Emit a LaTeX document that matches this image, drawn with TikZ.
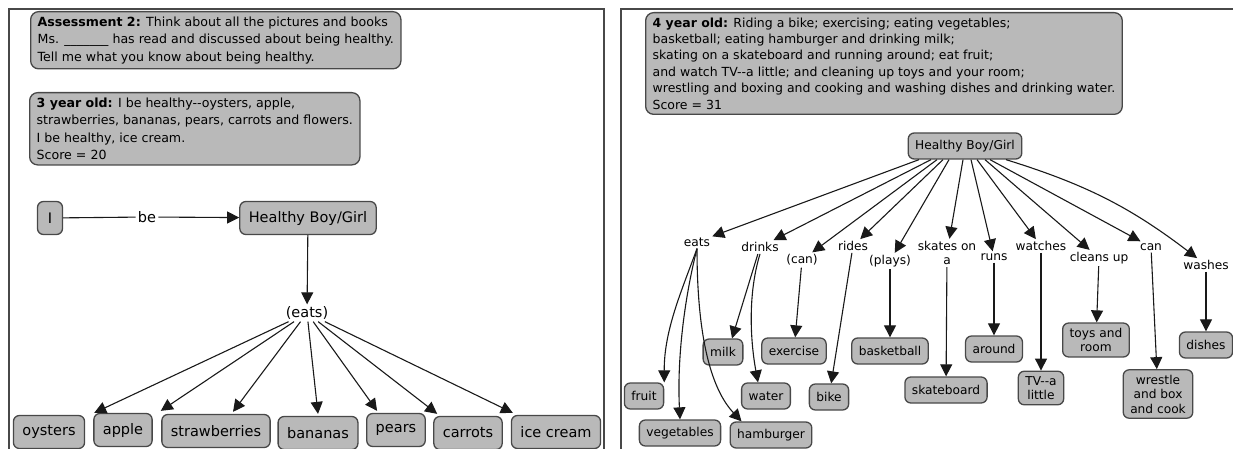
\documentclass[tikz,border=0pt]{standalone}
\usepackage{fontspec}
\setmainfont{DejaVu Sans}
\usetikzlibrary{arrows.meta,calc}
\definecolor{boxgray}{RGB}{185,185,185}
\definecolor{boxline}{RGB}{72,72,72}
\definecolor{linkline}{RGB}{25,25,25}

\begin{document}
\begin{tikzpicture}[x=1pt, y=-1pt,
    concept/.style={draw=boxline, fill=boxgray, line width=1.3pt, rounded corners=6pt,
      align=center, inner xsep=7pt, inner ysep=5pt, minimum height=26pt,
      font=\fontsize{12.2}{14.5}\selectfont},
    bigconcept/.style={concept, minimum height=33pt, inner xsep=9pt,
      font=\fontsize{14.5}{17}\selectfont},
    note/.style={draw=boxline, fill=boxgray, line width=1.3pt, rounded corners=8pt,
      align=left, anchor=north west, inner xsep=7pt, inner ysep=5pt},
    linkword/.style={inner sep=2pt, align=center, font=\fontsize{12.2}{14.5}\selectfont},
    biglink/.style={linkword, font=\fontsize{14.5}{17}\selectfont},
    arr/.style={draw=linkline, line width=1.1pt, -{Triangle[length=12pt,width=12pt]}}]
    \useasboundingbox (0,0) rectangle (1233,449);

    \draw[boxline, line width=1.6pt] (9,449) -- (9,9) -- (604,9) -- (604,449);
    \draw[boxline, line width=1.6pt] (621,449) -- (621,9) -- (1233,9);

    % left panel
    \node[note, font=\fontsize{12.6}{17.5}\selectfont] (assess) at (30,11)
      {\textbf{Assessment 2:} Think about all the pictures and books\\
       Ms. \_\_\_\_\_\_\_ has read and discussed about being healthy.\\
       Tell me what you know about being healthy.};
    \node[note, font=\fontsize{12.6}{17.5}\selectfont] (three) at (29,92)
      {\textbf{3 year old:} I be healthy-{}-oysters, apple,\\
       strawberries, bananas, pears, carrots and flowers.\\
       I be healthy, ice cream.\\
       Score = 20};

    \node[bigconcept, minimum width=25pt, inner xsep=4pt] (i) at (50,218) {I};
    \node[biglink] (be) at (147,217) {be};
    \node[bigconcept] (hbgl) at (308,218) {Healthy Boy/Girl};
    \node[biglink] (eatsl) at (307,313) {(eats)};

    \node[bigconcept] (oysters) at (49,432) {oysters};
    \node[bigconcept] (apple) at (123,430) {apple};
    \node[bigconcept] (strawberries) at (216,431) {strawberries};
    \node[bigconcept] (bananas) at (318,433) {bananas};
    \node[bigconcept] (pears) at (396,430) {pears};
    \node[bigconcept] (carrots) at (468,433) {carrots};
    \node[bigconcept] (icecream) at (556,432) {ice cream};

    \draw[draw=linkline, line width=1.1pt] (i) -- (be);
    \draw[arr] (be) -- (hbgl);
    \draw[arr] (hbgl) -- (eatsl);
    \draw[arr] (eatsl) -- ($(oysters.north east)+(9,-2)$);
    \draw[arr] (eatsl) -- ($(apple.north east)+(8,-2)$);
    \draw[arr] (eatsl) -- ($(strawberries.north)+(17,-2)$);
    \draw[arr] (eatsl) -- ($(bananas.north)+(0,-2)$);
    \draw[arr] (eatsl) -- ($(pears.north west)+(11,-2)$);
    \draw[arr] (eatsl) -- ($(carrots.north west)+(4,-2)$);
    \draw[arr] (eatsl) -- ($(icecream.north west)+(2,-2)$);

    % right panel
    \node[note, font=\fontsize{12.5}{16.4}\selectfont] (four) at (645,12)
      {\textbf{4 year old:} Riding a bike; exercising; eating vegetables;\\
       basketball; eating hamburger and drinking milk;\\
       skating on a skateboard and running around; eat fruit;\\
       and watch TV-{}-a little; and cleaning up toys and your room;\\
       wrestling and boxing and cooking and washing dishes and drinking water.\\
       Score = 31};

    \node[concept] (hbgr) at (965,146) {Healthy Boy/Girl};

    \node[linkword] (eats) at (697,242) {eats};
    \node[linkword] (drinks) at (760,247) {drinks};
    \node[linkword] (canx) at (802,260) {(can)};
    \node[linkword] (rides) at (853,246) {rides};
    \node[linkword] (plays) at (890,261) {(plays)};
    \node[linkword] (skates) at (947,253) {skates on\\a};
    \node[linkword] (runs) at (994,257) {runs};
    \node[linkword] (watches) at (1041,246) {watches};
    \node[linkword] (cleans) at (1099,258) {cleans up};
    \node[linkword] (can) at (1151,247) {can};
    \node[linkword] (washes) at (1206,265) {washes};

    \node[concept] (fruit) at (644,396) {fruit};
    \node[concept] (vegetables) at (680,433) {vegetables};
    \node[concept] (hamburger) at (771,435) {hamburger};
    \node[concept] (milk) at (723,352) {milk};
    \node[concept] (exercise) at (794,351) {exercise};
    \node[concept] (water) at (766,396) {water};
    \node[concept] (bike) at (829,397) {bike};
    \node[concept] (basketball) at (890,351) {basketball};
    \node[concept] (skateboard) at (946,390) {skateboard};
    \node[concept] (around) at (994,349) {around};
    \node[concept] (tv) at (1041,388) {TV-{}-a\\little};
    \node[concept] (toys) at (1096,340) {toys and\\room};
    \node[concept] (wrestle) at (1158,394) {wrestle\\and box\\and cook};
    \node[concept] (dishes) at (1206,345) {dishes};

    \draw[arr] ($(hbgr.south)+(-46,0)$) -- (eats);
    \draw[arr] ($(hbgr.south)+(-34,0)$) -- (drinks);
    \draw[arr] ($(hbgr.south)+(-28,0)$) -- (canx);
    \draw[arr] ($(hbgr.south)+(-22,0)$) -- (rides);
    \draw[arr] ($(hbgr.south)+(-16,0)$) -- (plays);
    \draw[arr] ($(hbgr.south)+(-2,0)$) -- (skates);
    \draw[arr] ($(hbgr.south)+(6,0)$) -- (runs);
    \draw[arr] ($(hbgr.south)+(12,0)$) -- (watches);
    \draw[arr] ($(hbgr.south)+(20,0)$) -- (cleans);
    \draw[arr] ($(hbgr.south)+(25,0)$) -- (can);
    \draw[arr] ($(hbgr.south)+(41,0)$) to[bend left=10] (washes);

    \draw[arr] (eats.south) .. controls (682,290) and (664,330) .. (fruit.north east);
    \draw[arr] (eats.south) .. controls (684,300) and (677,360) .. (vegetables.north);
    \draw[arr] (eats.south) .. controls (697,340) and (712,390) .. ($(hamburger.north west)+(12,0)$);
    \draw[arr] (drinks) -- ($(milk.north)+(9,0)$);
    \draw[arr] (drinks.south) .. controls (746,300) and (752,350) .. ($(water.north)+(-8,0)$);
    \draw[arr] (canx) -- (exercise);
    \draw[arr] (rides) -- (bike);
    \draw[arr] (plays) -- (basketball);
    \draw[arr] (skates) -- (skateboard);
    \draw[arr] (runs) -- (around);
    \draw[arr] (watches) -- (tv);
    \draw[arr] (cleans) -- (toys);
    \draw[arr] (can) -- (wrestle);
    \draw[arr] (washes) -- (dishes);
\end{tikzpicture}
\end{document}
